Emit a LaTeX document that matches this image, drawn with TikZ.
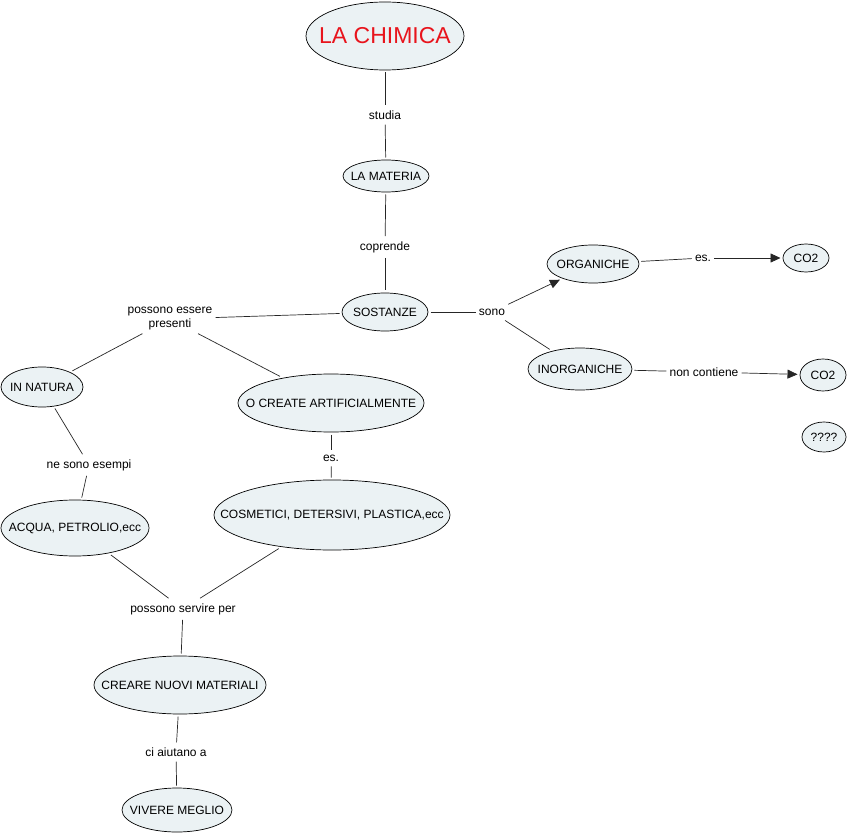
\documentclass[tikz,border=0pt]{standalone}
\usepackage{fontspec}
\setmainfont{Liberation Sans}
\usetikzlibrary{shapes.geometric,arrows.meta}
\definecolor{nodefill}{HTML}{EBF2F4}
\definecolor{chimred}{HTML}{E8141C}
\newcommand{\cmtext}[1]{\makebox[0pt]{#1}}
\tikzset{
 concept/.style={ellipse, draw=black, line width=0.7pt, fill=nodefill, inner sep=0pt, outer sep=2.5pt, font=\fontsize{12}{14}\selectfont},
 lbl/.style={inner xsep=3pt, inner ysep=5pt, font=\fontsize{12}{14}\selectfont, align=center},
 conn/.style={line width=0.7pt, draw=black!85},
 arr/.style={conn, -{Triangle[length=10pt,width=9pt]}},
}
\begin{document}
\begin{tikzpicture}[x=1pt,y=-1pt]
\useasboundingbox (0,0) rectangle (851,834);
% concepts
\node[concept, minimum width=158, minimum height=68] (chimica) at (385,36) {\cmtext{\fontsize{23}{26}\selectfont\color{chimred}LA CHIMICA}};
\node[concept, minimum width=86, minimum height=32] (materia) at (386,176) {\cmtext{LA MATERIA}};
\node[concept, minimum width=86, minimum height=38] (sostanze) at (385,312) {\cmtext{SOSTANZE}};
\node[concept, minimum width=92, minimum height=38] (organiche) at (593,264) {\cmtext{ORGANICHE}};
\node[concept, minimum width=46, minimum height=28] (co2a) at (806,258) {\cmtext{CO2}};
\node[concept, minimum width=104, minimum height=42] (inorganiche) at (580,369) {\cmtext{INORGANICHE}};
\node[concept, minimum width=46, minimum height=32] (co2b) at (823,375) {\cmtext{CO2}};
\node[concept, minimum width=44, minimum height=30] (qqq) at (824,437) {\cmtext{????}};
\node[concept, minimum width=82, minimum height=40] (innatura) at (42,387) {\cmtext{IN NATURA}};
\node[concept, minimum width=186, minimum height=58] (create) at (331,403) {\cmtext{O CREATE ARTIFICIALMENTE}};
\node[concept, minimum width=236, minimum height=70] (cosmetici) at (332,515) {\cmtext{COSMETICI, DETERSIVI, PLASTICA,ecc}};
\node[concept, minimum width=148, minimum height=56] (acqua) at (75,528) {\cmtext{ACQUA, PETROLIO,ecc}};
\node[concept, minimum width=172, minimum height=58] (creare) at (180,685) {\cmtext{CREARE NUOVI MATERIALI}};
\node[concept, minimum width=110, minimum height=44] (vivere) at (177,810) {\cmtext{VIVERE MEGLIO}};
% linking phrases
\node[lbl] (studia) at (385,115) {studia};
\node[lbl] (coprende) at (385,247) {coprende};
\node[lbl] (sono) at (492,312) {sono};
\node[lbl] (es1) at (703,258) {es.};
\node[lbl] (noncont) at (704,372) {non contiene};
\node[lbl, inner ysep=3pt] (possono) at (170,319) {possono essere\\presenti};
\node[lbl] (esempi) at (89,465) {ne sono esempi};
\node[lbl] (es2) at (331,458) {es.};
\node[lbl] (servire) at (183,609) {possono servire per};
\node[lbl] (aiutano) at (176,752) {ci aiutano a};
% connectors
\draw[conn] (chimica) -- (studia);
\draw[conn] (studia) -- (materia);
\draw[conn] (materia) -- (coprende);
\draw[conn] (coprende) -- (sostanze);
\draw[conn] (sostanze) -- (sono);
\draw[arr] (sono) -- (organiche);
\draw[conn] (sono) -- (inorganiche);
\draw[conn] (organiche) -- (es1);
\draw[arr] (es1) -- (co2a);
\draw[conn] (inorganiche) -- (noncont);
\draw[arr] (noncont) -- (co2b);
\draw[conn] (sostanze) -- (possono);
\draw[conn] (possono) -- (innatura);
\draw[conn] (possono) -- (create);
\draw[conn] (innatura) -- (esempi);
\draw[conn] (esempi) -- (acqua);
\draw[conn] (create) -- (es2);
\draw[conn] (es2) -- (cosmetici);
\draw[conn] (acqua) -- (servire);
\draw[conn] (cosmetici) -- (servire);
\draw[conn] (servire) -- (creare);
\draw[conn] (creare) -- (aiutano);
\draw[conn] (aiutano) -- (vivere);
\end{tikzpicture}
\end{document}
